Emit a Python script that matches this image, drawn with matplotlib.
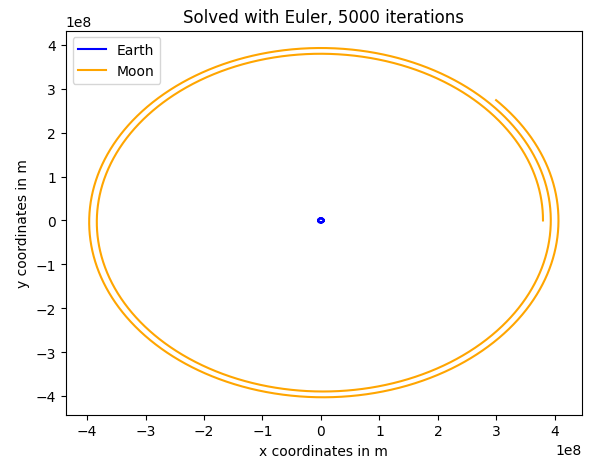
import numpy as np
import matplotlib
matplotlib.use("Agg")
import matplotlib.pyplot as plt

# physical set-up of the Earth-Moon system
G = 6.674e-11
m_earth = 5.972e24
m_moon = 7.342e22
distance = 3.844e8
moon_speed = 1010.0
dt = 1049.0
n_iter = 5000

labels = ["Earth", "Moon"]
colors = ["blue", "orange"]


def euler(n, dt):
    # start both bodies around the common centre of mass
    total = m_earth + m_moon
    pe = np.zeros((n, 2))
    pm = np.zeros((n, 2))
    pe[0] = [-distance * m_moon / total, 0.0]
    pm[0] = [distance * m_earth / total, 0.0]
    vm = np.array([0.0, moon_speed])
    ve = -vm * m_moon / m_earth
    for i in range(n - 1):
        d = pm[i] - pe[i]
        r3 = np.linalg.norm(d) ** 3
        am = -G * m_earth * d / r3
        ae = G * m_moon * d / r3
        pm[i + 1] = pm[i] + vm * dt
        pe[i + 1] = pe[i] + ve * dt
        vm = vm + am * dt
        ve = ve + ae * dt
    return pe, pm


earth, moon = euler(n_iter, dt)

fig = plt.figure(figsize=(5.92, 4.64), dpi=100)
ax = fig.add_axes([0.111, 0.104, 0.872, 0.828])
ax.plot(earth[:, 0], earth[:, 1], color=colors[0], label=labels[0])
ax.plot(moon[:, 0], moon[:, 1], color=colors[1], label=labels[1])
ax.set_title(f"Solved with Euler, {n_iter} iterations")
ax.set_xlabel("x coordinates in m")
ax.set_ylabel("y coordinates in m")
ax.legend(loc="upper left")
fig.savefig("out.png", dpi=100)
